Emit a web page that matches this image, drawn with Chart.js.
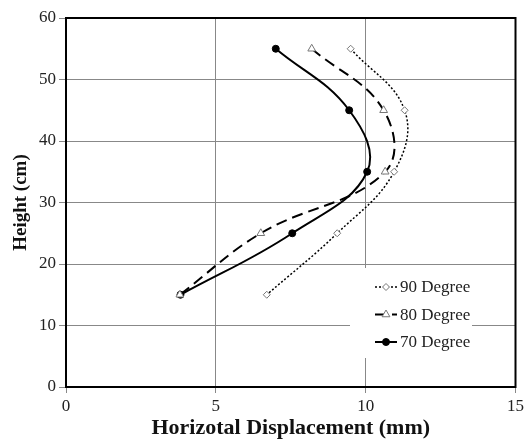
<!DOCTYPE html>
<html>
<head>
<meta charset="utf-8">
<script src="https://cdn.jsdelivr.net/npm/chart.js@4/dist/chart.umd.min.js"></script>
<style>
  html, body { margin: 0; padding: 0; background: #fff; }
  #wrap { width: 527px; height: 439px; }
</style>
</head>
<body>
<div id="wrap"><canvas id="chart" width="527" height="439"></canvas></div>
<script>
// Heights (cm) and displacements (mm)
const heights = [55, 45, 35, 25, 15];
const disp90 = [9.5, 11.3, 10.95, 9.05, 6.7];
const disp80 = [8.2, 10.6, 10.65, 6.5, 3.8];
const disp70 = [7.0, 9.45, 10.05, 7.55, 3.82];
const seriesNames = ['90 Degree', '80 Degree', '70 Degree'];
const xTicks = [0, 5, 10, 15];
const yTicks = [0, 10, 20, 30, 40, 50, 60];

const serif = '"Liberation Serif", "Times New Roman", serif';

function pts(xs) {
    return xs.map((x, i) => ({ x: x, y: heights[i] }));
}

// cadre noir + légende dans la zone du graphe
const framePlugin = {
    id: 'frame',
    afterDatasetsDraw(chart) {
        const ctx = chart.ctx;
        const a = chart.chartArea;
        ctx.save();
        // légende
        const lx = 350, ly = 268, lw = 122, lh = 90;
        ctx.fillStyle = '#fff';
        ctx.fillRect(lx, ly, lw, lh);
        ctx.font = '17px ' + serif;
        ctx.textBaseline = 'middle';
        chart.data.datasets.forEach((ds, i) => {
            const y = ly + 19 + i * 27.5;
            ctx.strokeStyle = '#000';
            ctx.lineWidth = ds.borderWidth;
            ctx.setLineDash(ds.borderDash || []);
            ctx.beginPath();
            ctx.moveTo(lx + 25, y);
            ctx.lineTo(lx + 47, y);
            ctx.stroke();
            ctx.setLineDash([]);
            ctx.lineWidth = 1;
            ctx.fillStyle = ds.pointBackgroundColor;
            ctx.strokeStyle = ds.pointBorderColor;
            Chart.helpers.drawPoint(ctx, {
                pointStyle: ds.pointStyle,
                radius: ds.pointRadius,
                borderWidth: 1
            }, lx + 36, y);
            ctx.fillStyle = '#222';
            ctx.fillText(ds.label, lx + 50, y + 1);
        });
        // bordure
        ctx.strokeStyle = '#000';
        ctx.lineWidth = 2;
        ctx.strokeRect(a.left, a.top, a.right - a.left, a.bottom - a.top);
        ctx.restore();
    }
};

new Chart(document.getElementById('chart'), {
    type: 'scatter',
    data: {
        datasets: [
            {
                label: seriesNames[0],
                data: pts(disp90),
                showLine: true,
                borderColor: '#000',
                borderWidth: 1.5,
                borderDash: [2, 2],
                tension: 0.4,
                pointStyle: 'rectRot',
                pointRadius: 3.5,
                pointBackgroundColor: '#fff',
                pointBorderColor: '#777',
                pointBorderWidth: 1
            },
            {
                label: seriesNames[1],
                data: pts(disp80),
                showLine: true,
                borderColor: '#000',
                borderWidth: 2,
                borderDash: [11, 6],
                tension: 0.4,
                pointStyle: 'triangle',
                pointRadius: 4.5,
                pointBackgroundColor: '#fff',
                pointBorderColor: '#777',
                pointBorderWidth: 1
            },
            {
                label: seriesNames[2],
                data: pts(disp70),
                showLine: true,
                borderColor: '#000',
                borderWidth: 2,
                tension: 0.4,
                pointStyle: 'circle',
                pointRadius: 3.5,
                pointBackgroundColor: '#000',
                pointBorderColor: '#000',
                pointBorderWidth: 1
            }
        ]
    },
    options: {
        responsive: false,
        animation: false,
        layout: { padding: { top: 18, right: 11, left: 0, bottom: 0 } },
        plugins: {
            legend: { display: false },
            tooltip: { enabled: false }
        },
        scales: {
            x: {
                type: 'linear',
                min: 0,
                max: 15,
                afterBuildTicks: s => { s.ticks = xTicks.map(v => ({ value: v })); },
                afterFit: s => { s.height = 52; },
                grid: { color: '#888', lineWidth: 1, tickLength: 6, tickColor: '#888' },
                border: { color: '#000', width: 2 },
                ticks: { color: '#222', font: { family: serif, size: 17 }, padding: 3 },
                title: {
                    display: true,
                    text: 'Horizotal Displacement (mm)',
                    color: '#111',
                    font: { family: serif, size: 22, weight: 'bold' },
                    padding: { top: 0, bottom: -3 }
                }
            },
            y: {
                type: 'linear',
                min: 0,
                max: 60,
                afterBuildTicks: s => { s.ticks = yTicks.map(v => ({ value: v })); },
                afterFit: s => { s.width = 66; },
                grid: { color: '#888', lineWidth: 1, tickLength: 7, tickColor: '#888' },
                border: { color: '#000', width: 2 },
                ticks: { color: '#222', font: { family: serif, size: 17 }, padding: 3 },
                title: {
                    display: true,
                    text: 'Height (cm)',
                    color: '#111',
                    font: { family: serif, size: 19, weight: 'bold' },
                    padding: { top: 10, bottom: 2 }
                }
            }
        }
    },
    plugins: [framePlugin]
});
</script>
</body>
</html>
